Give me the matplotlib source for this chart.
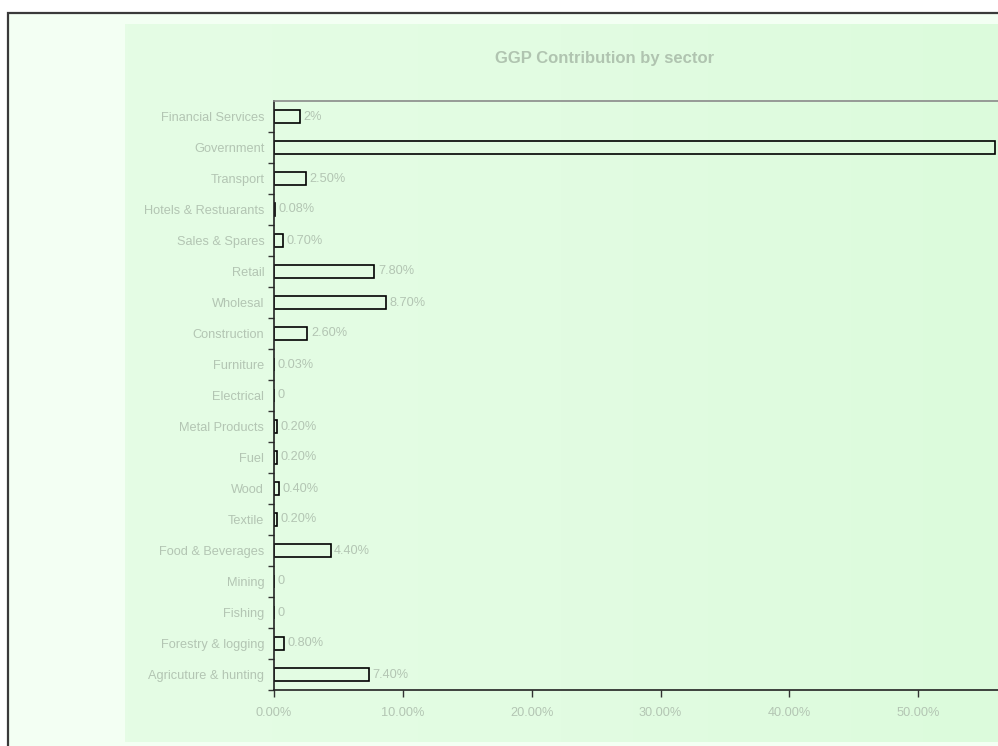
import numpy as np
import matplotlib
matplotlib.use('Agg')
import matplotlib.pyplot as plt
from matplotlib.patches import Rectangle
from matplotlib.ticker import PercentFormatter

plt.rcParams['font.family'] = ['Liberation Sans', 'DejaVu Sans']

# sectors listed bottom to top
sectors = ['Agricuture & hunting', 'Forestry & logging', 'Fishing', 'Mining',
           'Food & Beverages', 'Textile', 'Wood', 'Fuel', 'Metal Products',
           'Electrical', 'Furniture', 'Construction', 'Wholesal', 'Retail',
           'Sales & Spares', 'Hotels & Restuarants', 'Transport', 'Government',
           'Financial Services']
share = [7.4, 0.8, 0, 0, 4.4, 0.2, 0.4, 0.2, 0.2, 0, 0.03, 2.6, 8.7, 7.8,
         0.7, 0.08, 2.5, 56, 2]
# the Government bar runs off the right edge, its label with it
share_labels = ['7.40%', '0.80%', '0', '0', '4.40%', '0.20%', '0.40%', '0.20%',
                '0.20%', '0', '0.03%', '2.60%', '8.70%', '7.80%', '0.70%',
                '0.08%', '2.50%', '', '2%']
x_ticks = [0, 10, 20, 30, 40, 50]

W, H = 998, 746
fig = plt.figure(figsize=(W / 100, H / 100), dpi=100)
fig.patch.set_facecolor('white')

txt = '#b3c5b3'
fs = 9.2

# outer chart frame
fig.patches.append(Rectangle((8 / W, -0.05), 1.1, (H - 13) / H + 0.05,
                             transform=fig.transFigure, facecolor='#f3fff3',
                             edgecolor='#3a3a3a', linewidth=1.6, zorder=-3))

# plot area background with a soft horizontal gradient
bg = fig.add_axes([125 / W, 1 - 742 / H, (W - 125) / W, (742 - 24) / H], zorder=-2)
grad = np.linspace(0, 1, 256).reshape(1, -1)
cmap = matplotlib.colors.LinearSegmentedColormap.from_list('bg', ['#e5fce5', '#e2fce2', '#dcfbdc'])
bg.imshow(grad, aspect='auto', cmap=cmap, extent=[0, 1, 0, 1])
bg.set_axis_off()

ax = fig.add_axes([274 / W, 1 - 690 / H, 773 / W, 589 / H])
ax.set_facecolor('none')

y = np.arange(len(sectors))
ax.barh(y, share, height=0.42, facecolor='none', edgecolor='black', linewidth=1.2)

ax.set_xlim(0, 60)
ax.set_ylim(-0.5, len(sectors) - 0.5)
ax.set_xticks(x_ticks)
ax.xaxis.set_major_formatter(PercentFormatter(decimals=2))
ax.tick_params(axis='x', length=5, width=1, colors='#333333', labelcolor=txt,
               labelsize=fs, pad=7)

# labels sit at bar centres, tick marks between categories
ax.set_yticks(y - 0.5, minor=False)
ax.set_yticklabels([])
ax.set_yticks(y, minor=True)
ax.set_yticklabels(sectors, minor=True)
ax.tick_params(axis='y', which='major', length=4, width=1, colors='#333333', direction='out')
ax.tick_params(axis='y', which='minor', length=0, labelcolor=txt, labelsize=fs, pad=7)

for s in ['left', 'bottom']:
    ax.spines[s].set_color('#222222')
    ax.spines[s].set_linewidth(1.2)
for s in ['top', 'right']:
    ax.spines[s].set_color('#8a8a8a')
    ax.spines[s].set_linewidth(1.2)

for yi, v, lab in zip(y, share, share_labels):
    if lab:
        ax.annotate(lab, (v, yi), xytext=(2.5, 0), textcoords='offset points',
                    va='center', ha='left', color=txt, fontsize=fs)

fig.text(605 / W, 1 - 59 / H, 'GGP Contribution by sector', ha='center', va='center',
         fontsize=12, fontweight='bold', color='#b0c4b0')

fig.savefig('out.png', dpi=100)
